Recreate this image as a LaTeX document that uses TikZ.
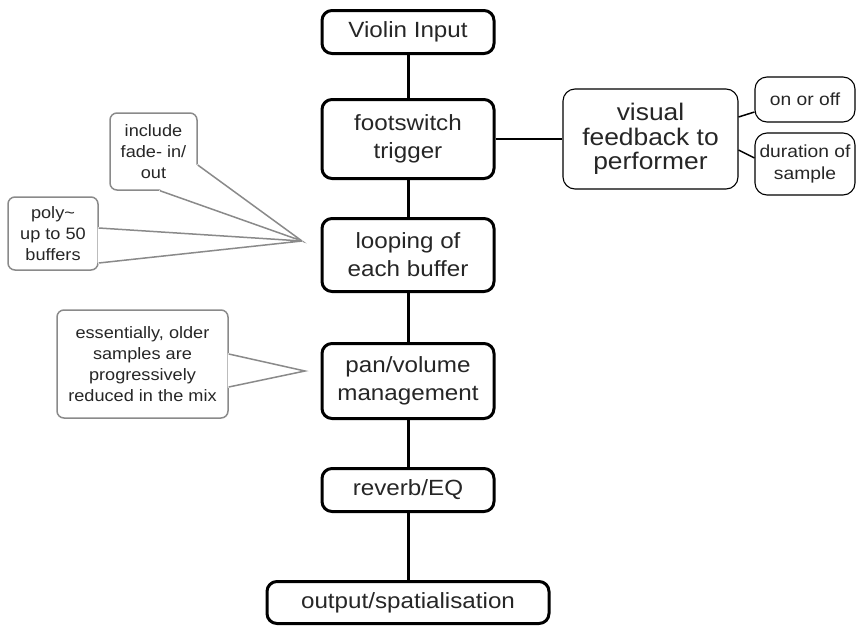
\documentclass[tikz,border=0pt]{standalone}
\usepackage{fontspec}
\setmainfont{Liberation Sans}[FakeStretch=1.1]
\definecolor{calloutgray}{HTML}{8A8A8A}
\definecolor{txt}{HTML}{262626}
\begin{document}
\begin{tikzpicture}[x=1pt,y=-1pt,
  mainbox/.style={draw=black, line width=3pt, rounded corners=10pt, minimum width=172pt,
    align=center, inner sep=0pt, text=txt, font=\fontsize{22}{28}\selectfont},
  sidebox/.style={draw=black, line width=1.1pt, rounded corners=12pt, align=center,
    inner sep=0pt, text=txt},
  bigtext/.style={font=\fontsize{24}{24.5}\selectfont},
  smalltext/.style={font=\fontsize{17.5}{22}\selectfont},
  callbox/.style={draw=calloutgray, line width=1.5pt, rounded corners=7pt, align=center,
    inner sep=0pt, text=txt, font=\fontsize{16.5}{21}\selectfont},
  link/.style={line width=3pt},
  thinlink/.style={line width=1.5pt},
  pointer/.style={draw=calloutgray, line width=1.5pt, line join=miter},
  cover/.style={fill=white, draw=white, line width=1.6pt, line join=round}]
\useasboundingbox (0,0) rectangle (857,627);

% main chain
\node[mainbox, minimum height=43pt] (violin) at (408,32) {Violin Input};
\node[mainbox, minimum height=79pt] (foot) at (408,139) {footswitch\\trigger};
\node[mainbox, minimum height=73pt] (loop) at (408,255) {looping of\\each buffer};
\node[mainbox, minimum height=75pt] (pan) at (408,381) {pan/volume\\management};
\node[mainbox, minimum height=43pt] (reverb) at (408,490) {reverb/EQ};
\node[mainbox, minimum height=42pt, minimum width=282pt] (output) at (408,602.5) {output/spatialisation};

\draw[link] (violin) -- (foot);
\draw[link] (foot) -- (loop);
\draw[link] (loop) -- (pan);
\draw[link] (pan) -- (reverb);
\draw[link] (reverb) -- (output);

% right side
\node[sidebox, bigtext, minimum width=175pt, minimum height=100pt] (visual) at (650.5,139) {visual\\feedback to\\performer};
\node[sidebox, smalltext, minimum width=100pt, minimum height=45pt] (onoff) at (805,99.5) {on or off};
\node[sidebox, smalltext, minimum width=100pt, minimum height=62pt] (duration) at (805,164) {duration of\\sample};

\draw[thinlink] (foot.east) -- (visual.west);
\draw[thinlink] ([yshift=22pt]visual.east) -- ([yshift=-12.5pt]onoff.west);
\draw[thinlink] ([yshift=-11pt]visual.east) -- ([yshift=6pt]duration.west);

% callouts
\node[callbox, minimum width=87pt, minimum height=77pt] (fade) at (153.5,151.5) {include\\fade- in/\\out};
\node[callbox, minimum width=90pt, minimum height=73pt] (poly) at (53,233.5) {poly\textasciitilde\\up to 50\\buffers};
\node[callbox, minimum width=171pt, minimum height=108pt] (ess) at (142.5,364) {essentially, older\\samples are\\progressively\\reduced in the mix};

\coordinate (tipA) at (302,241);
\coordinate (tipB) at (305,371);

\filldraw[cover] ([yshift=-13.5pt]fade.east) -- (tipA) -- ([xshift=6.5pt]fade.south) -- cycle;
\draw[pointer] ([yshift=-13.5pt]fade.east) -- (tipA) -- ([xshift=6.5pt]fade.south);

\filldraw[cover] ([yshift=5.5pt]poly.east) -- (tipA) -- ([yshift=-29.5pt]poly.east) -- cycle;
\draw[pointer] ([yshift=5.5pt]poly.east) -- (tipA) -- ([yshift=-29.5pt]poly.east);

\filldraw[cover] ([yshift=10pt]ess.east) -- (tipB) -- ([yshift=-23pt]ess.east) -- cycle;
\draw[pointer] ([yshift=10pt]ess.east) -- (tipB) -- ([yshift=-23pt]ess.east);
\end{tikzpicture}
\end{document}
